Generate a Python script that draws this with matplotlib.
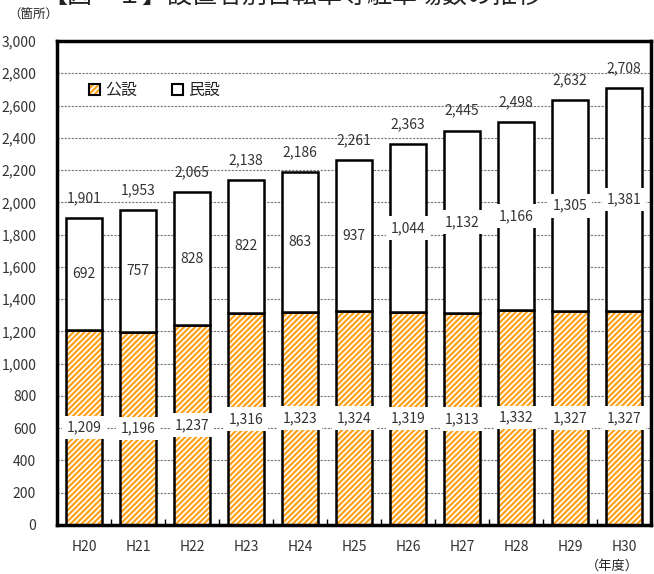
import matplotlib
matplotlib.use("Agg")
import matplotlib.pyplot as plt
import numpy as np
from matplotlib.patches import Patch
from matplotlib.legend_handler import HandlerTuple

plt.rcParams['font.family'] = ['Noto Sans CJK JP', 'DejaVu Sans']
plt.rcParams['hatch.linewidth'] = 1.6

years = ['H20', 'H21', 'H22', 'H23', 'H24', 'H25', 'H26', 'H27', 'H28', 'H29', 'H30']
public = [1209, 1196, 1237, 1316, 1323, 1324, 1319, 1313, 1332, 1327, 1327]
private = [692, 757, 828, 822, 863, 937, 1044, 1132, 1166, 1305, 1381]
totals = [1901, 1953, 2065, 2138, 2186, 2261, 2363, 2445, 2498, 2632, 2708]
yticks = list(range(0, 3001, 200))

W, H = 654, 574
fig = plt.figure(figsize=(W / 100, H / 100), dpi=100)
ax = fig.add_axes([57 / W, 49 / H, 594 / W, 484 / H])

x = np.arange(len(years))
bw = 0.67
orange = '#FFA21A'

# public: hatched
ax.bar(x, public, bw, color='white', edgecolor=orange, hatch='//////', linewidth=0, zorder=2)
ax.bar(x, public, bw, fill=False, edgecolor='black', linewidth=1.8, zorder=3)
# private: white
ax.bar(x, private, bw, bottom=public, color='white', edgecolor='black', linewidth=1.8, zorder=3)

tc = '#333333'
fs = 10
for i in range(len(years)):
    ax.text(x[i], public[i] / 2, f'{public[i]:,}', ha='center', va='center', fontsize=fs, color=tc,
            zorder=5, bbox=dict(facecolor='white', edgecolor='none', pad=3.5))
    ax.text(x[i], public[i] + private[i] / 2, f'{private[i]:,}', ha='center', va='center', fontsize=fs,
            color=tc, zorder=5, bbox=dict(facecolor='white', edgecolor='none', pad=3.5))
    ax.text(x[i], totals[i] + 80, f'{totals[i]:,}', ha='center', va='bottom', fontsize=fs, color=tc, zorder=5)

ax.set_xlim(-0.5, len(years) - 0.5)
ax.set_ylim(0, 3000)
ax.set_yticks(yticks)
ax.set_yticklabels([f'{v:,}' for v in yticks], fontsize=fs, color=tc)
ax.tick_params(axis='y', length=0, pad=15)
ax.set_xticks(x)
ax.set_xticklabels(years, fontsize=fs, color=tc)
ax.tick_params(axis='x', which='major', length=0, pad=11)
ax.set_xticks(np.arange(0.5, len(years) - 0.5, 1), minor=True)
ax.tick_params(axis='x', which='minor', direction='in', length=4, width=1, color='black')
ax.grid(axis='y', color='#777777', linestyle=(0, (2, 1.2)), linewidth=0.8, zorder=0)
ax.set_axisbelow(True)
for s in ax.spines.values():
    s.set_linewidth(2.5)
    s.set_color('black')

h_pub = (Patch(facecolor='white', edgecolor=orange, hatch='//////', linewidth=0),
         Patch(fill=False, edgecolor='black', linewidth=1.5))
h_pri = Patch(facecolor='white', edgecolor='black', linewidth=1.5)
leg = ax.legend(handles=[h_pub, h_pri], labels=['公設', '民設'], handler_map={tuple: HandlerTuple(ndivide=1)},
                loc='upper left', bbox_to_anchor=(0.03, 0.945), ncol=2, frameon=False,
                fontsize=11.5, handlelength=0.7, handleheight=0.7, handletextpad=0.3, columnspacing=2.2,
                labelcolor='#222222')

fig.text(8 / W, 1 - 15 / H, '（箇所）', fontsize=9, ha='left', va='center', color='#222222')
fig.text(612 / W, 1 - 566 / H, '（年度）', fontsize=9.5, ha='center', va='center', color='#222222')
fig.text(42 / W, 1 - 3 / H, '【図－１】設置者別自転車等駐車場数の推移', fontsize=18, ha='left', va='baseline',
         color='#222222')

fig.savefig('out.png', dpi=100)
